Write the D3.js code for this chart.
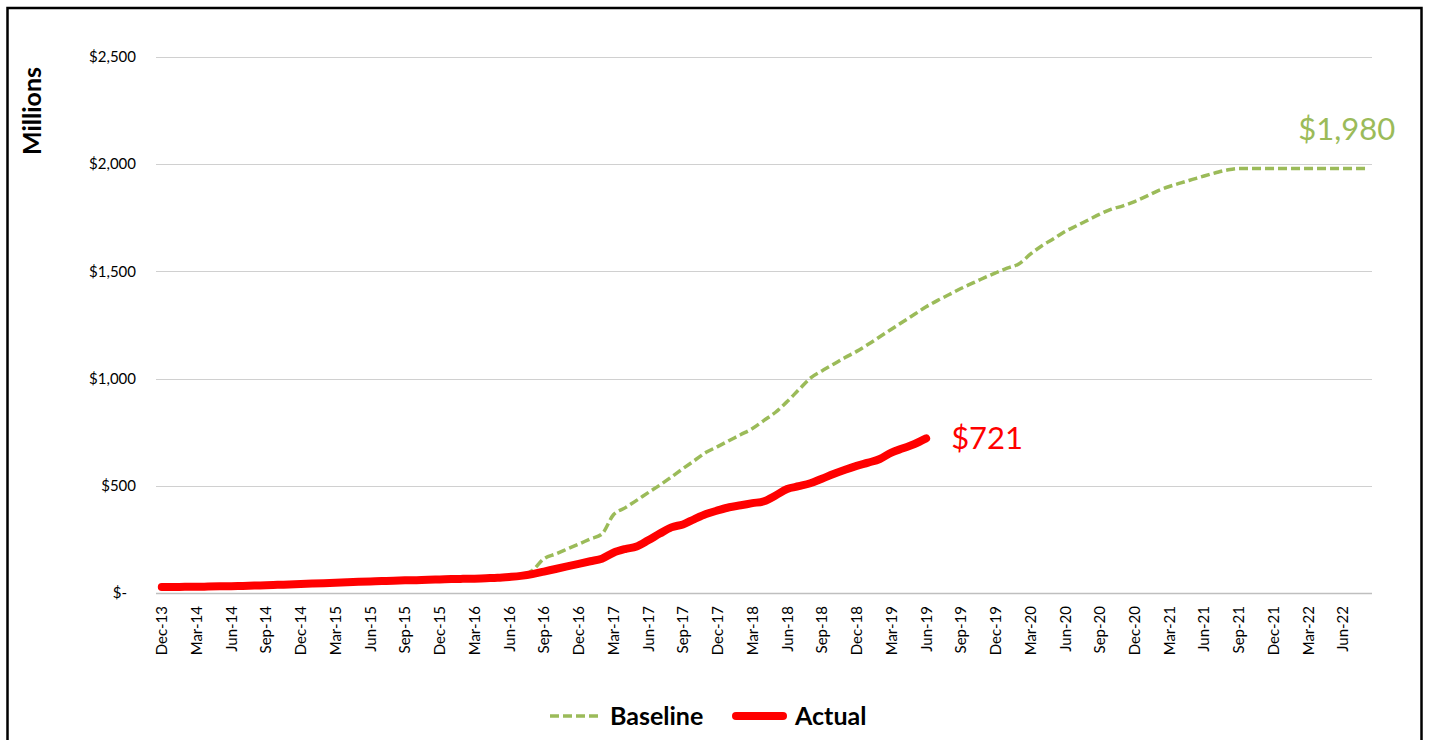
<!DOCTYPE html>
<html>
<head>
<meta charset="utf-8">
<script src="https://cdn.jsdelivr.net/npm/d3@7"></script>
<style>
  html, body { margin: 0; padding: 0; background: #fff; }
  svg { display: block; }
  text { font-family: Lato, "Open Sans", sans-serif; }
</style>
</head>
<body>
<svg id="chart" width="1429" height="740"></svg>
<script>
// ---------------- DATA ----------------
const months = [
  "Dec-13",
  "Jan-14","Feb-14","Mar-14","Apr-14","May-14","Jun-14","Jul-14","Aug-14","Sep-14","Oct-14","Nov-14","Dec-14",
  "Jan-15","Feb-15","Mar-15","Apr-15","May-15","Jun-15","Jul-15","Aug-15","Sep-15","Oct-15","Nov-15","Dec-15",
  "Jan-16","Feb-16","Mar-16","Apr-16","May-16","Jun-16","Jul-16","Aug-16","Sep-16","Oct-16","Nov-16","Dec-16",
  "Jan-17","Feb-17","Mar-17","Apr-17","May-17","Jun-17","Jul-17","Aug-17","Sep-17","Oct-17","Nov-17","Dec-17",
  "Jan-18","Feb-18","Mar-18","Apr-18","May-18","Jun-18","Jul-18","Aug-18","Sep-18","Oct-18","Nov-18","Dec-18",
  "Jan-19","Feb-19","Mar-19","Apr-19","May-19","Jun-19","Jul-19","Aug-19","Sep-19","Oct-19","Nov-19","Dec-19",
  "Jan-20","Feb-20","Mar-20","Apr-20","May-20","Jun-20","Jul-20","Aug-20","Sep-20","Oct-20","Nov-20","Dec-20",
  "Jan-21","Feb-21","Mar-21","Apr-21","May-21","Jun-21","Jul-21","Aug-21","Sep-21","Oct-21","Nov-21","Dec-21",
  "Jan-22","Feb-22","Mar-22","Apr-22","May-22","Jun-22","Jul-22","Aug-22"
];

const tickLabels = [
  "Dec-13","Mar-14","Jun-14","Sep-14","Dec-14","Mar-15","Jun-15","Sep-15","Dec-15",
  "Mar-16","Jun-16","Sep-16","Dec-16","Mar-17","Jun-17","Sep-17","Dec-17","Mar-18",
  "Jun-18","Sep-18","Dec-18","Mar-19","Jun-19","Sep-19","Dec-19","Mar-20","Jun-20",
  "Sep-20","Dec-20","Mar-21","Jun-21","Sep-21","Dec-21","Mar-22","Jun-22"
];

// Actual (Dec-13 .. Jun-19), $ millions
const actual = [
  28,28,29,29,30,31,32,33,35,36,38,40,
  42,44,46,48,50,52,54,56,57,59,60,62,
  63,65,66,67,69,71,75,80,88,100,112,124,
  136,148,160,188,205,217,246,277,306,320,345,368,
  385,400,409,419,428,455,485,498,512,533,555,575,
  593,608,625,655,675,695,721
];

// Baseline (Dec-13 .. Aug-22), $ millions
const baseline = [
  28,28,29,29,30,31,32,33,35,36,38,40,
  42,44,46,48,50,52,54,56,57,59,60,62,
  63,65,66,67,69,71,75,80,
  105,160,182,205,228,252,275,365,397,432,468,503,
  541,580,618,656,683,711,739,767,805,843,893,948,
  1002,1036,1067,1098,1127,1160,1195,1230,1265,1300,1335,1365,
  1392,1420,1445,1470,1493,1515,1535,1580,1620,1652,1686,1713,
  1740,1767,1790,1806,1826,1850,1876,1896,1913,1929,1945,1960,
  1973,1980,1980,1980,1980,1980,1980,1980,1980,1980,1980,1980,1980
];

const yTicks = [0, 500, 1000, 1500, 2000, 2500];
const yTickLabels = ["$-", "$500", "$1,000", "$1,500", "$2,000", "$2,500"];
const seriesNames = ["Baseline", "Actual"];
const endLabels = ["$1,980", "$721"];

// ---------------- CHART ----------------
const svg = d3.select("#chart");
const GREEN = "#9BBB59", RED = "#FF0000";

const x = d3.scalePoint().domain(months).range([156, 1372]).padding(0.5);
const y = d3.scaleLinear().domain([0, 2500]).range([593, 57]);

// outer frame
svg.append("rect")
  .attr("x", 7.5).attr("y", 8).attr("width", 1414).attr("height", 760)
  .attr("fill", "none").attr("stroke", "#000").attr("stroke-width", 2.5);

// gridlines
svg.append("g").selectAll("line")
  .data(yTicks.slice(1)).join("line")
  .attr("x1", 156).attr("x2", 1372)
  .attr("y1", d => Math.round(y(d)) + 0.5).attr("y2", d => Math.round(y(d)) + 0.5)
  .attr("stroke", "#D0D0D0").attr("stroke-width", 1.2);

// x axis line
svg.append("line")
  .attr("x1", 156).attr("x2", 1372)
  .attr("y1", Math.round(y(0)) + 0.5).attr("y2", Math.round(y(0)) + 0.5)
  .attr("stroke", "#BFBFBF").attr("stroke-width", 1.5);

// y tick labels
svg.append("g").selectAll("text")
  .data(yTicks).join("text")
  .attr("x", (d, i) => i === 0 ? 127 : 136)
  .attr("y", d => y(d))
  .attr("dy", "0.35em")
  .attr("text-anchor", "end")
  .attr("font-size", 15)
  .attr("fill", "#000")
  .text((d, i) => yTickLabels[i]);

// x tick labels (rotated)
svg.append("g").selectAll("text")
  .data(tickLabels).join("text")
  .attr("transform", d => `translate(${x(d)},606) rotate(-90)`)
  .attr("dy", "0.36em")
  .attr("text-anchor", "end")
  .attr("font-size", 15)
  .attr("fill", "#000")
  .text(d => d);

// y axis title
svg.append("text")
  .attr("transform", "translate(32,111) rotate(-90)")
  .attr("dy", "0.36em")
  .attr("text-anchor", "middle")
  .attr("font-size", 25).attr("font-weight", "bold")
  .attr("fill", "#000")
  .text("Millions");

const line = d3.line()
  .x((d, i) => x(months[i]))
  .y(d => y(d))
  .curve(d3.curveMonotoneX);

// baseline
svg.append("path")
  .datum(baseline)
  .attr("d", line)
  .attr("fill", "none")
  .attr("stroke", GREEN)
  .attr("stroke-width", 3.5)
  .attr("stroke-dasharray", "9,4");

// actual
svg.append("path")
  .datum(actual)
  .attr("d", line)
  .attr("fill", "none")
  .attr("stroke", RED)
  .attr("stroke-width", 8)
  .attr("stroke-linecap", "round")
  .attr("stroke-linejoin", "round");

// end labels
const bLast = baseline.length - 1, aLast = actual.length - 1;
svg.append("text")
  .attr("x", x(months[bLast]) + 29)
  .attr("y", y(baseline[bLast]) - 28)
  .attr("text-anchor", "end")
  .attr("font-size", 31)
  .attr("fill", GREEN)
  .text(endLabels[0]);

svg.append("text")
  .attr("x", x(months[aLast]) + 25)
  .attr("y", y(actual[aLast]) + 11)
  .attr("text-anchor", "start")
  .attr("font-size", 31)
  .attr("fill", RED)
  .text(endLabels[1]);

// legend
const lg = svg.append("g");
lg.append("line")
  .attr("x1", 550).attr("x2", 599).attr("y1", 716).attr("y2", 716)
  .attr("stroke", GREEN).attr("stroke-width", 3.5).attr("stroke-dasharray", "9,4");
lg.append("text")
  .attr("x", 610).attr("y", 716).attr("dy", "0.35em")
  .attr("font-size", 25).attr("font-weight", "bold").attr("fill", "#000")
  .text(seriesNames[0]);
lg.append("line")
  .attr("x1", 736).attr("x2", 783).attr("y1", 716).attr("y2", 716)
  .attr("stroke", RED).attr("stroke-width", 8).attr("stroke-linecap", "round");
lg.append("text")
  .attr("x", 795).attr("y", 716).attr("dy", "0.35em")
  .attr("font-size", 25).attr("font-weight", "bold").attr("fill", "#000")
  .text(seriesNames[1]);
</script>
</body>
</html>
